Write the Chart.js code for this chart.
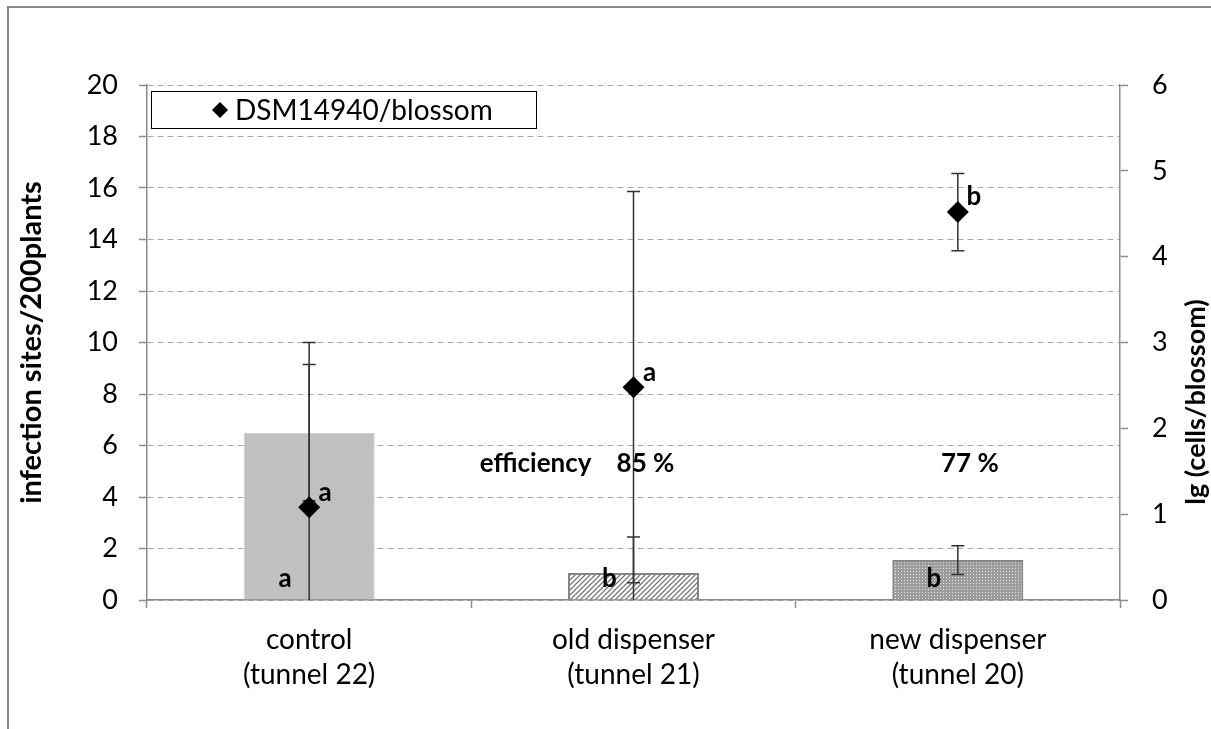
<!DOCTYPE html>
<html>
<head>
<meta charset="utf-8">
<title>DSM14940 infection sites</title>
<script src="https://cdn.jsdelivr.net/npm/chart.js@4.4.1/dist/chart.umd.min.js"></script>
<style>
  html, body { margin: 0; padding: 0; background: #fff; }
  canvas { display: block; }
</style>
</head>
<body>
<canvas id="chart" width="1211" height="729"></canvas>
<script>
'use strict';

// data
const categories = [
  ['control', '(tunnel 22)'],
  ['old dispenser', '(tunnel 21)'],
  ['new dispenser', '(tunnel 20)']
];
const infectionSites = [6.5, 1.05, 1.55];
const infectionSitesErr = [2.65, 1.4, 0.56];
const cellsPerBlossom = [1.08, 2.48, 4.52];
const cellsPerBlossomErr = [1.92, 2.28, 0.45];
const barLetters = ['a', 'b', 'b'];
const pointLetters = ['a', 'a', 'b'];
const efficiency = [null, 85, 77];
const leftTicks = { min: 0, max: 20, step: 2 };
const rightTicks = { min: 0, max: 6, step: 1 };
const seriesLabel = 'DSM14940/blossom';
const leftTitle = 'infection sites/200plants';
const rightTitle = 'lg (cells/blossom)';

const FONT = 'Lato';
const AXIS_GRAY = '#8c8c8c';

Chart.defaults.font.family = FONT;
Chart.defaults.color = '#000';

const canvas = document.getElementById('chart');
const ctx = canvas.getContext('2d');

function hatchPattern() {
  const c = document.createElement('canvas');
  c.width = 5;
  c.height = 5;
  const g = c.getContext('2d');
  g.fillStyle = '#ffffff';
  g.fillRect(0, 0, 5, 5);
  g.strokeStyle = '#7a7a7a';
  g.lineWidth = 1.3;
  g.beginPath();
  g.moveTo(0, 5); g.lineTo(5, 0);
  g.moveTo(-1, 1); g.lineTo(1, -1);
  g.moveTo(4, 6); g.lineTo(6, 4);
  g.stroke();
  return ctx.createPattern(c, 'repeat');
}

function dotPattern() {
  const c = document.createElement('canvas');
  c.width = 3;
  c.height = 3;
  const g = c.getContext('2d');
  g.fillStyle = '#9c9c9c';
  g.fillRect(0, 0, 3, 3);
  g.fillStyle = '#e4e4e4';
  g.fillRect(1, 1, 1, 1);
  return ctx.createPattern(c, 'repeat');
}

function drawErr(g, x, scale, value, err) {
  const top = scale.getPixelForValue(value + err);
  const bottom = scale.getPixelForValue(value - err);
  g.beginPath();
  g.moveTo(x, top);
  g.lineTo(x, bottom);
  g.moveTo(x - 6.5, top);
  g.lineTo(x + 6.5, top);
  g.moveTo(x - 6.5, bottom);
  g.lineTo(x + 6.5, bottom);
  g.stroke();
}

// error bars go after the bars but under the diamonds
const errorBars = {
  id: 'errorBars',
  afterDatasetDraw(chart, args) {
    if (args.index !== 0) {
      return;
    }
    const { ctx: g, chartArea, scales } = chart;
    g.save();
    g.beginPath();
    g.rect(chartArea.left, chartArea.top - 1, chartArea.width, chartArea.bottom - chartArea.top + 1);
    g.clip();
    g.strokeStyle = '#333333';
    g.lineWidth = 1.5;
    categories.forEach((_, i) => {
      const x = scales.x.getPixelForValue(i);
      drawErr(g, x, scales.y, infectionSites[i], infectionSitesErr[i]);
      drawErr(g, x, scales.y1, cellsPerBlossom[i], cellsPerBlossomErr[i]);
    });
    g.restore();
  }
};

const annotations = {
  id: 'annotations',
  afterDatasetsDraw(chart) {
    const { ctx: g, scales } = chart;
    const effY = scales.y.getPixelForValue(5.3);
    g.save();
    g.fillStyle = '#000';
    g.font = `bold 26px ${FONT}`;
    g.textAlign = 'center';
    g.textBaseline = 'middle';
    categories.forEach((_, i) => {
      const x = scales.x.getPixelForValue(i);
      g.fillText(barLetters[i], x - 24, scales.y.getPixelForValue(0) - 21);
      g.fillText(pointLetters[i], x + 16, scales.y1.getPixelForValue(cellsPerBlossom[i]) - 15);
      if (efficiency[i] != null) {
        g.fillText(`${efficiency[i]} %`, x + 12, effY);
      }
    });
    g.textAlign = 'right';
    g.fillText('efficiency', scales.x.getPixelForValue(1) - 42, effY);
    g.restore();
  }
};

const frameAndLegend = {
  id: 'frameAndLegend',
  afterDraw(chart) {
    const { ctx: g, chartArea } = chart;
    g.save();

    // outer chart frame (only top and left edges are in view)
    g.strokeStyle = '#8a8a8a';
    g.lineWidth = 2;
    g.beginPath();
    g.moveTo(8, 729);
    g.lineTo(8, 7);
    g.lineTo(1211, 7);
    g.stroke();

    // legend box
    g.fillStyle = '#fff';
    g.fillRect(151.5, 91.5, 385, 37);
    g.strokeStyle = '#000';
    g.lineWidth = 1;
    g.strokeRect(151.5, 91.5, 385, 37);
    g.fillStyle = '#000';
    g.beginPath();
    g.moveTo(220, 102);
    g.lineTo(228, 110);
    g.lineTo(220, 118);
    g.lineTo(212, 110);
    g.closePath();
    g.fill();
    g.font = `28px ${FONT}`;
    g.textAlign = 'left';
    g.textBaseline = 'middle';
    g.fillText(seriesLabel, 235, 111);

    // axis titles, both read bottom to top
    g.textAlign = 'center';
    g.save();
    g.font = `bold 29px ${FONT}`;
    g.translate(32, (chartArea.top + chartArea.bottom) / 2);
    g.rotate(-Math.PI / 2);
    g.fillText(leftTitle, 0, 0);
    g.restore();
    g.save();
    g.font = `bold 27px ${FONT}`;
    g.translate(1196, 402);
    g.rotate(-Math.PI / 2);
    g.fillText(rightTitle, 0, 0);
    g.restore();

    g.restore();
  }
};

const chart = new Chart(ctx, {
  type: 'bar',
  data: {
    labels: categories,
    datasets: [
      {
        type: 'bar',
        label: 'infection sites',
        data: infectionSites,
        yAxisID: 'y',
        order: 1,
        backgroundColor: ['#c0c0c0', hatchPattern(), dotPattern()],
        borderColor: ['#c8c8c8', '#858585', '#858585'],
        borderWidth: [1, 2, 2],
        borderSkipped: 'bottom',
        barPercentage: 0.404,
        categoryPercentage: 1
      },
      {
        type: 'line',
        label: seriesLabel,
        data: cellsPerBlossom,
        yAxisID: 'y1',
        order: 0,
        showLine: false,
        pointStyle: 'rectRot',
        pointRadius: 11,
        pointBorderWidth: 0,
        pointBackgroundColor: '#000',
        pointBorderColor: '#000'
      }
    ]
  },
  options: {
    responsive: false,
    animation: false,
    devicePixelRatio: 1,
    layout: { padding: { top: 85, left: 0, right: 0, bottom: 0 } },
    plugins: {
      legend: { display: false },
      tooltip: { enabled: false }
    },
    scales: {
      x: {
        position: 'bottom',
        offset: true,
        afterFit(scale) { scale.height = 129; },
        grid: {
          offset: true,
          drawOnChartArea: false,
          tickLength: 8,
          tickColor: AXIS_GRAY,
          tickWidth: 1.5
        },
        border: { color: AXIS_GRAY, width: 1.5 },
        ticks: {
          font: { size: 28, family: FONT, lineHeight: 1.25 },
          color: '#000',
          padding: 14,
          maxRotation: 0,
          autoSkip: false
        }
      },
      y: {
        position: 'left',
        min: leftTicks.min,
        max: leftTicks.max,
        afterFit(scale) { scale.width = 147; },
        grid: {
          color: '#a8a8a8',
          lineWidth: 1,
          tickLength: 8,
          tickColor: AXIS_GRAY,
          tickWidth: 1.5,
          tickBorderDash: []
        },
        border: { color: AXIS_GRAY, width: 1.5, dash: [6, 4] },
        ticks: {
          stepSize: leftTicks.step,
          font: { size: 27, family: FONT },
          color: '#000',
          padding: 21
        }
      },
      y1: {
        position: 'right',
        min: rightTicks.min,
        max: rightTicks.max,
        afterFit(scale) { scale.width = 91; },
        grid: {
          drawOnChartArea: false,
          tickLength: 8,
          tickColor: AXIS_GRAY,
          tickWidth: 1.5
        },
        border: { color: AXIS_GRAY, width: 1.5 },
        ticks: {
          stepSize: rightTicks.step,
          font: { size: 27, family: FONT },
          color: '#000',
          padding: 24
        }
      }
    }
  },
  plugins: [errorBars, annotations, frameAndLegend]
});
</script>
</body>
</html>
